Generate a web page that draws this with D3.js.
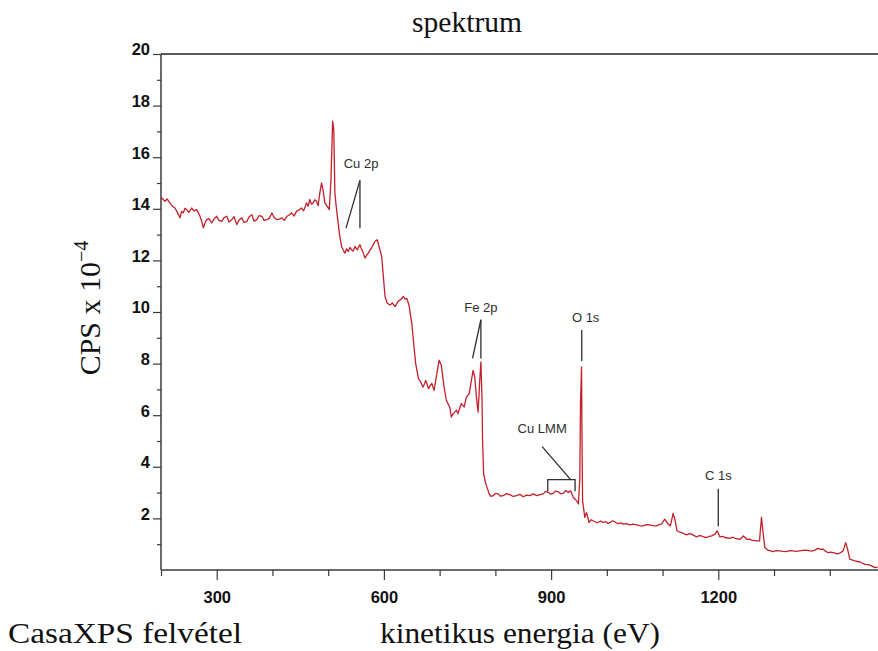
<!DOCTYPE html>
<html>
<head>
<meta charset="utf-8">
<script src="https://cdn.jsdelivr.net/npm/d3@7"></script>
<style>
  html, body { margin: 0; padding: 0; background: #fff; }
  svg { display: block; }
</style>
</head>
<body>
<svg id="chart" width="878" height="651"></svg>
<script>
// ---- data (kinetic energy in eV, counts in CPS x 10^-4) ----
const energy = [
  200,204,207,211,216,220,225,229,234,237,240,243,246,250,255,259,264,267,270,273,
  276,279,282,286,291,295,300,304,309,313,318,322,327,331,336,340,345,349,354,358,
  363,367,372,376,381,385,390,394,399,403,408,412,417,421,426,430,434,439,443,448,
  452,456,461,464,467,470,473,476,479,482,485,488,491,494,498,502,505,508,510,512,
  515,520,524,527,530,533,536,539,542,545,548,552,557,559,562,566,569,572,575,578,
  581,584,588,592,596,599,602,606,611,615,620,625,629,632,635,638,641,645,650,654,
  657,662,666,670,673,675,680,683,686,690,695,699,703,708,712,715,718,721,724,727,
  730,733,736,739,744,748,753,757,760,763,766,769,772,774,776,777,779,783,789,792,
  796,800,805,809,814,820,826,832,838,844,850,856,862,868,874,880,886,890,895,899,
  904,908,913,917,922,926,931,935,940,946,949,951.5,952.8,954.6,955.5,956.5,960.5,963.6,968,972,
  975,980,984,989,993,998,1002,1007,1011,1016,1020,1025,1029,1035,1041,1047,1053,1059,1065,1071,
  1077,1083,1089,1094,1098,1104,1110,1114,1119,1122,1126,1130,1134,1139,1143,1148,1152,1157,1161,1166,
  1170,1175,1179,1184,1188,1194,1198,1203,1208,1212,1217,1221,1226,1230,1235,1239,1245,1251,1256,1260,
  1264,1268,1274,1277.5,1280,1283.5,1289,1294,1298,1304,1310,1316,1322,1328,1334,1340,1346,1352,1358,1364,
  1370,1375,1379,1384,1388,1393,1397,1402,1406,1411,1415,1420,1424,1428.7,1432,1436,1441,1445,1450,1454,
  1459,1463,1468,1472,1477,1481,1486
];
const cps = [
  14.45,14.36,14.29,14.38,14.23,14.12,14.03,13.88,13.65,13.90,13.84,14.02,13.97,13.86,14.03,13.92,13.97,13.85,13.71,13.52,
  13.26,13.45,13.58,13.62,13.45,13.60,13.71,13.55,13.51,13.66,13.71,13.49,13.58,13.70,13.39,13.56,13.65,13.47,13.51,13.68,
  13.77,13.52,13.58,13.74,13.71,13.55,13.58,13.62,13.84,13.66,13.58,13.60,13.65,13.55,13.71,13.76,13.84,13.72,13.90,13.96,
  14.03,13.92,14.23,14.10,14.36,14.18,14.23,14.35,14.29,14.12,14.62,15.00,14.70,14.23,14.10,13.97,15.14,17.40,17.08,14.62,
  13.97,13.06,12.54,12.40,12.28,12.45,12.35,12.50,12.41,12.36,12.54,12.41,12.61,12.48,12.35,12.09,12.20,12.28,12.40,12.48,
  12.62,12.74,12.80,12.48,12.15,11.37,10.60,10.34,10.27,10.35,10.21,10.40,10.47,10.52,10.60,10.50,10.53,10.27,9.56,8.65,
  8.00,7.42,7.29,7.09,7.22,7.35,7.03,7.15,7.23,6.96,7.61,8.13,7.94,7.09,6.58,6.45,6.32,5.93,6.05,6.12,
  6.20,6.06,6.28,6.45,6.32,6.70,6.84,7.35,7.74,7.48,6.70,6.12,7.35,8.07,6.70,5.02,3.72,3.33,2.95,2.85,
  2.88,2.97,2.95,2.86,2.88,2.96,2.92,2.85,2.88,2.93,2.84,2.90,2.88,2.95,2.88,2.92,2.95,3.05,3.01,2.94,
  2.97,3.06,3.03,2.96,2.97,3.08,3.01,3.07,2.81,2.68,2.56,3.50,6.50,7.87,5.00,2.68,2.04,2.23,1.84,1.95,
  1.91,1.86,1.84,1.90,1.84,1.88,1.80,1.86,1.91,1.84,1.80,1.83,1.78,1.80,1.75,1.78,1.75,1.72,1.71,1.76,
  1.75,1.72,1.71,1.76,1.78,1.97,1.78,1.71,2.19,1.97,1.52,1.48,1.45,1.40,1.36,1.41,1.39,1.33,1.28,1.33,
  1.32,1.27,1.26,1.30,1.32,1.39,1.52,1.28,1.30,1.26,1.24,1.23,1.27,1.23,1.21,1.19,1.32,1.19,1.20,1.16,
  1.15,1.13,1.13,2.04,1.52,0.87,0.77,0.74,0.71,0.75,0.74,0.72,0.71,0.75,0.74,0.72,0.74,0.76,0.77,0.74,
  0.74,0.79,0.84,0.80,0.81,0.72,0.67,0.69,0.67,0.64,0.63,0.68,0.74,1.06,0.81,0.42,0.38,0.35,0.33,0.32,
  0.26,0.22,0.21,0.19,0.14,0.09,0.11
];

// axis ticks
const yMajorTicks = [2,4,6,8,10,12,14,16,18,20];
const yMinorTicks = [1,3,5,7,9,11,13,15,17,19];
const xMajorTicks = [300,600,900,1200];
const xMinorTicks = [200,400,500,700,800,1000,1100,1300,1400];

// peak annotations
const peakLabels = ["Cu 2p","Fe 2p","O 1s","Cu LMM","C 1s"];

const svg = d3.select("#chart");
const pLeft = 161, pRight = 878, pTop = 54, pBottom = 570;

const x = d3.scaleLinear().domain([200, 1486.6]).range([pLeft, pRight]);
const y = d3.scaleLinear().domain([0, 20]).range([pBottom, pTop]);

const axisColor = "#3a3a3a";

// top frame line
svg.append("line")
  .attr("x1", pLeft).attr("x2", pRight)
  .attr("y1", pTop).attr("y2", pTop)
  .attr("stroke", "#5a5a5a").attr("stroke-width", 2);

// Y axis (major)
const gy = svg.append("g").attr("transform", `translate(${pLeft},0)`);
gy.call(d3.axisLeft(y).tickValues(yMajorTicks).tickSize(8).tickSizeOuter(0).tickFormat(d3.format("d")));
gy.select(".domain").attr("stroke", axisColor).attr("stroke-width", 1.5)
  .attr("d", `M0,${pBottom}V${pTop}`);
gy.selectAll(".tick line").attr("stroke", axisColor).attr("stroke-width", 1.2);
gy.selectAll(".tick text")
  .attr("x", -11).attr("dy", "0.05em")
  .attr("font-family", "Arial, 'Liberation Sans', sans-serif")
  .attr("font-weight", "bold").attr("font-size", 16.5).attr("fill", "#111");
// Y axis (minor)
const gym = svg.append("g").attr("transform", `translate(${pLeft},0)`);
gym.call(d3.axisLeft(y).tickValues(yMinorTicks).tickSize(4).tickSizeOuter(0).tickFormat(""));
gym.select(".domain").remove();
gym.selectAll(".tick line").attr("stroke", axisColor).attr("stroke-width", 1.2);

// X axis (major)
const gx = svg.append("g").attr("transform", `translate(0,${pBottom})`);
gx.call(d3.axisBottom(x).tickValues(xMajorTicks).tickSize(10).tickSizeOuter(0).tickFormat(d3.format("d")));
gx.select(".domain").attr("stroke", axisColor).attr("stroke-width", 1.5)
  .attr("d", `M${pLeft},0H${pRight}`);
gx.selectAll(".tick line").attr("stroke", axisColor).attr("stroke-width", 1.2);
gx.selectAll(".tick text")
  .attr("y", 21).attr("dy", "0.71em")
  .attr("font-family", "Arial, 'Liberation Sans', sans-serif")
  .attr("font-weight", "bold").attr("font-size", 16.5).attr("fill", "#111");
// X axis (minor)
const gxm = svg.append("g").attr("transform", `translate(0,${pBottom})`);
gxm.call(d3.axisBottom(x).tickValues(xMinorTicks).tickSize(6).tickSizeOuter(0).tickFormat(""));
gxm.select(".domain").remove();
gxm.selectAll(".tick line").attr("stroke", axisColor).attr("stroke-width", 1.2);

// spectrum line
const pts = energy.map((e, i) => [e, cps[i]]);
svg.append("path")
  .datum(pts)
  .attr("fill", "none")
  .attr("stroke", "#c3202c")
  .attr("stroke-width", 1.3)
  .attr("stroke-linejoin", "round")
  .attr("d", d3.line().x(d => x(d[0])).y(d => y(d[1])));

// annotations
const annColor = "#2e2e2e";
const annFont = "Arial, 'Liberation Sans', sans-serif";
const ann = svg.append("g");
function label(txt, ex, vy) {
  ann.append("text").attr("x", x(ex)).attr("y", y(vy))
    .attr("text-anchor", "middle")
    .attr("font-family", annFont).attr("font-size", 13).attr("fill", annColor)
    .text(txt);
}
function seg(e1, v1, e2, v2) {
  ann.append("line")
    .attr("x1", x(e1)).attr("y1", y(v1)).attr("x2", x(e2)).attr("y2", y(v2))
    .attr("stroke", annColor).attr("stroke-width", 1.3);
}
// Cu 2p
label(peakLabels[0], 559, 15.6);
seg(557, 15.1, 532, 13.25);
seg(557, 15.1, 557, 13.25);
// Fe 2p
label(peakLabels[1], 774, 10.0);
seg(774, 9.7, 759, 8.2);
seg(774, 9.7, 774, 8.2);
// O 1s
label(peakLabels[2], 962, 9.6);
seg(955, 9.3, 955, 8.1);
// Cu LMM
label(peakLabels[3], 884, 5.3);
seg(884, 4.78, 935, 3.5);
ann.append("path")
  .attr("d", `M${x(894)},${y(3.05)}V${y(3.5)}H${x(943)}V${y(3.05)}`)
  .attr("fill", "none").attr("stroke", annColor).attr("stroke-width", 1.3);
// C 1s
label(peakLabels[4], 1200, 3.5);
seg(1200, 3.15, 1200, 1.7);

// titles
const serif = "'Liberation Serif', 'Times New Roman', 'DejaVu Serif', serif";
svg.append("text").attr("x", 467).attr("y", 32).attr("text-anchor", "middle")
  .attr("font-family", serif).attr("font-size", 29).attr("fill", "#111")
  .attr("textLength", 110).attr("lengthAdjust", "spacingAndGlyphs")
  .text("spektrum");

svg.append("text").attr("x", 520).attr("y", 643).attr("text-anchor", "middle")
  .attr("font-family", serif).attr("font-size", 30).attr("fill", "#111")
  .attr("textLength", 280).attr("lengthAdjust", "spacingAndGlyphs")
  .text("kinetikus energia (eV)");

svg.append("text").attr("x", 8).attr("y", 643).attr("text-anchor", "start")
  .attr("font-family", serif).attr("font-size", 29).attr("fill", "#111")
  .attr("textLength", 234).attr("lengthAdjust", "spacingAndGlyphs")
  .text("CasaXPS felvétel");

const yt = svg.append("text")
  .attr("transform", "translate(100,308) rotate(-90)")
  .attr("text-anchor", "middle")
  .attr("font-family", serif).attr("font-size", 30).attr("fill", "#111");
yt.append("tspan").text("CPS x 10");
yt.append("tspan").attr("dy", -12).attr("font-size", 20).text("−4");
</script>
</body>
</html>
